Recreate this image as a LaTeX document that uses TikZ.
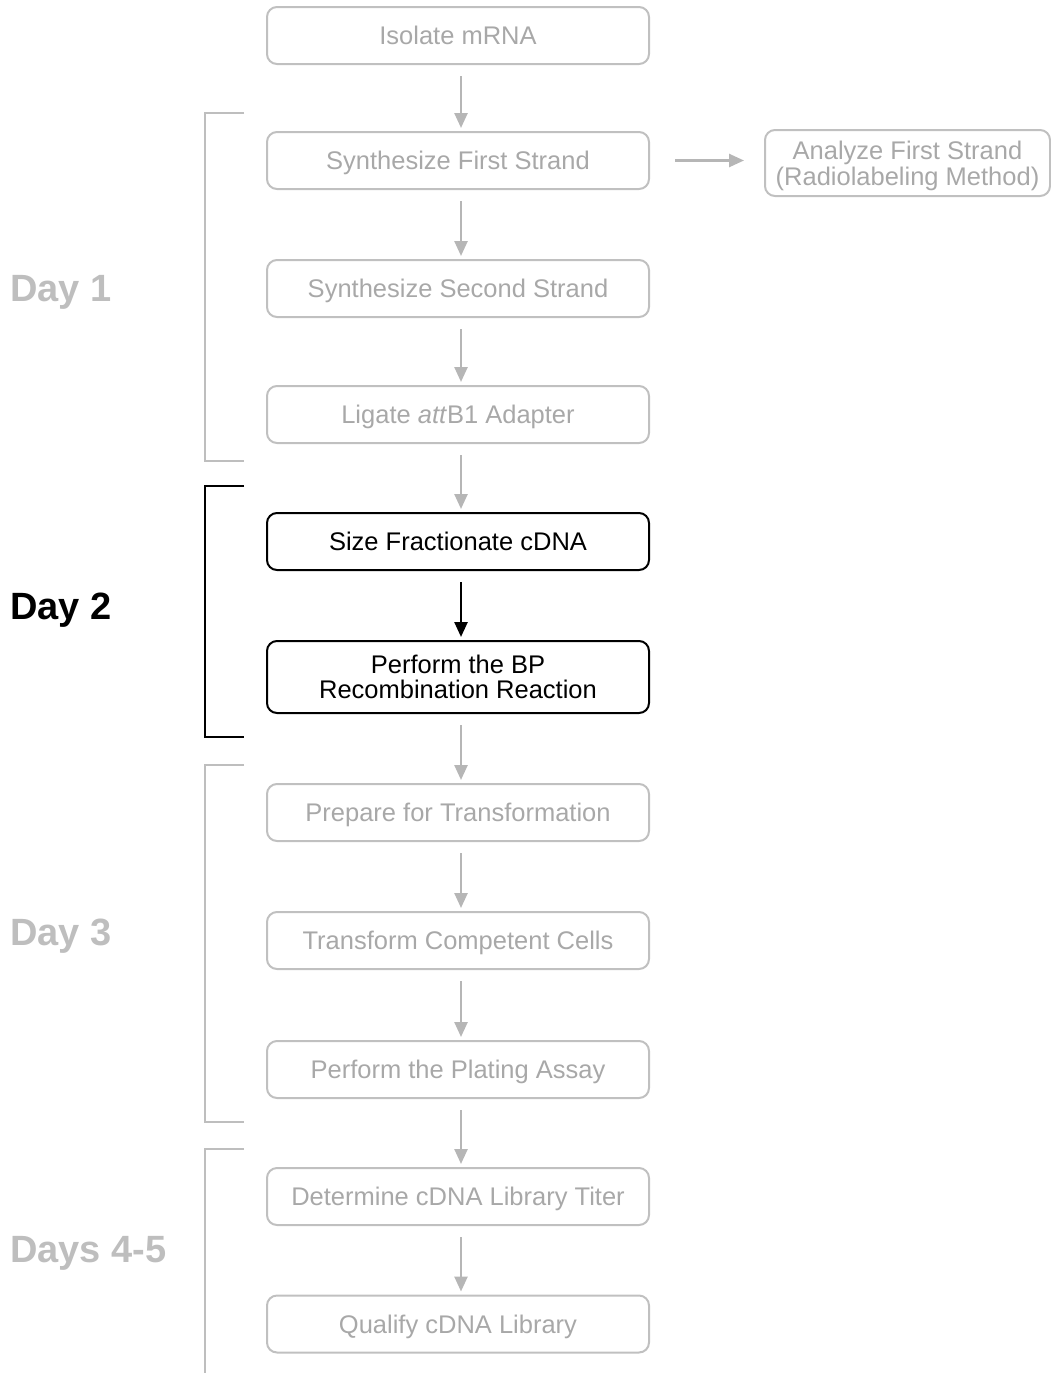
\documentclass[tikz,border=0pt]{standalone}
\usepackage{fontspec}
\setmainfont{Liberation Sans}
\usetikzlibrary{arrows.meta}
\definecolor{boxgray}{RGB}{192,192,192}
\definecolor{txtgray}{RGB}{168,168,168}
\definecolor{arrgray}{RGB}{182,182,182}
\definecolor{daygray}{RGB}{190,190,190}
\tikzset{
  stepbox/.style={draw=boxgray, line width=2pt, rounded corners=10pt, minimum width=382pt, minimum height=57pt, text=txtgray, font=\fontsize{25.5}{25}\selectfont, align=center, inner sep=0pt},
  oneline/.style={text height=18pt, text depth=0pt},
  activebox/.style={stepbox, draw=black, text=black},
  arr/.style={draw=arrgray, line width=2.5pt, -{Triangle[length=15pt,width=13pt]}, shorten <=11pt, shorten >=3pt},
  activearr/.style={arr, draw=black},
  bracketline/.style={draw=daygray, line width=2pt},
  daylabel/.style={anchor=west, font=\fontsize{38}{38}\selectfont\bfseries, text=daygray, inner sep=0pt, text height=27pt, text depth=0pt}
}
\begin{document}
\begin{tikzpicture}[x=1pt,y=-1pt]
\useasboundingbox (0,0) rectangle (1051,1373);
\node[stepbox, oneline] (iso) at (458,35.5) {Isolate mRNA};
\node[stepbox, oneline] (s1) at (458,160.5) {Synthesize First Strand};
\node[stepbox, minimum width=285pt, minimum height=66pt] (an) at (907.5,163) {};
\node[text=txtgray, font=\fontsize{25.5}{26}\selectfont, align=center, inner sep=0pt] (antext) at (907.5,166) {Analyze First Strand\\(Radiolabeling Method)};
\node[stepbox, oneline] (s2) at (458,288.5) {Synthesize Second Strand};
\node[stepbox, oneline] (lig) at (458,414.5) {Ligate \textit{att}B1 Adapter};
\node[activebox, oneline] (sf) at (458,541.5) {Size Fractionate cDNA};
\node[activebox, minimum height=72pt] (bp) at (458,677) {Perform the BP\\Recombination Reaction};
\node[stepbox, oneline] (pt) at (458,812.5) {Prepare for Transformation};
\node[stepbox, oneline] (tc) at (458,940.5) {Transform Competent Cells};
\node[stepbox, oneline] (pa) at (458,1069.5) {Perform the Plating Assay};
\node[stepbox, oneline] (dt) at (458,1196.5) {Determine cDNA Library Titer};
\node[stepbox, oneline] (ql) at (458,1324) {Qualify cDNA Library};

\draw[arr] ([xshift=3pt]iso.south) -- ([xshift=3pt]s1.north);
\draw[arr, shorten <=25pt, shorten >=20pt] (s1.east) -- (an.west |- s1.east);
\draw[arr] ([xshift=3pt]s1.south) -- ([xshift=3pt]s2.north);
\draw[arr] ([xshift=3pt]s2.south) -- ([xshift=3pt]lig.north);
\draw[arr] ([xshift=3pt]lig.south) -- ([xshift=3pt]sf.north);
\draw[activearr] ([xshift=3pt]sf.south) -- ([xshift=3pt]bp.north);
\draw[arr] ([xshift=3pt]bp.south) -- ([xshift=3pt]pt.north);
\draw[arr] ([xshift=3pt]pt.south) -- ([xshift=3pt]tc.north);
\draw[arr] ([xshift=3pt]tc.south) -- ([xshift=3pt]pa.north);
\draw[arr] ([xshift=3pt]pa.south) -- ([xshift=3pt]dt.north);
\draw[arr] ([xshift=3pt]dt.south) -- ([xshift=3pt]ql.north);

\draw[bracketline] (244,113) -- (205,113) -- (205,461) -- (244,461);
\draw[bracketline, draw=black] (244,486) -- (205,486) -- (205,737) -- (244,737);
\draw[bracketline] (244,765) -- (205,765) -- (205,1122) -- (244,1122);
\draw[bracketline] (244,1149) -- (205,1149) -- (205,1373);

\node[daylabel] (d1) at (10,288) {Day 1};
\node[daylabel, text=black] (d2) at (10,606) {Day 2};
\node[daylabel] (d3) at (10,932) {Day 3};
\node[daylabel] (d45) at (10,1249) {Days 4-5};
\end{tikzpicture}
\end{document}
